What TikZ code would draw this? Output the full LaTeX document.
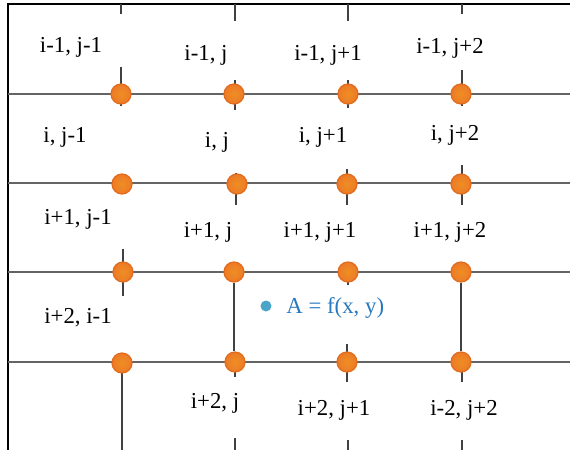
\documentclass[tikz,border=0pt]{standalone}
\usepackage{fontspec}
\setmainfont{Liberation Serif}
\definecolor{dotor}{RGB}{236,122,40}
\definecolor{dotedge}{RGB}{226,108,28}
\definecolor{hline}{RGB}{100,100,100}
\definecolor{vline}{RGB}{65,65,65}
\definecolor{ptblue}{RGB}{75,165,200}
\definecolor{txtblue}{RGB}{40,120,190}
\begin{document}
\begin{tikzpicture}[x=0.5pt,y=-0.5pt,
  gridh/.style={draw=hline,line width=1pt},
  gridv/.style={draw=vline,line width=0.8pt},
  knot/.style={circle,inner color=dotor!85!yellow,outer color=dotor,draw=dotedge,line width=0.6pt,minimum size=10pt,inner sep=0pt},
  lbl/.style={font=\fontsize{11.4}{13}\selectfont,inner sep=0pt},
  border/.style={draw=black,line width=0.8pt}]
\useasboundingbox (0,0) rectangle (570,450);
% frame
\draw[border] (8,450) -- (8,4) -- (570,4);
% horizontal lines
\foreach \y in {94,183,272,362} \draw[gridh] (8,\y) -- (570,\y);
% top ticks
\draw[gridv] (121,4) -- (121,14);
\draw[gridv] (235,4) -- (235,21);
\draw[gridv] (348,4) -- (348,21);
\draw[gridv] (462,4) -- (462,14);
% row ticks
\draw[gridv] (121,67) -- (121,106);
\draw[gridv] (235,80) -- (235,110);
\draw[gridv] (348,80) -- (348,108);
\draw[gridv] (462,70) -- (462,106);
\draw[gridv] (122,174) -- (122,184);
\draw[gridv] (236,173) -- (236,205);
\draw[gridv] (347,169) -- (347,205);
\draw[gridv] (462,165) -- (462,205);
\draw[gridv] (123,249) -- (123,296);
\draw[gridv] (348,272) -- (348,285);
\draw[gridv] (347,344) -- (347,382);
\draw[gridv] (235,362) -- (235,377);
\draw[gridv] (462,362) -- (462,382);
% bottom ticks
\draw[gridv] (122,363) -- (122,450);
\draw[gridv] (235,438) -- (235,450);
\draw[gridv] (348,440) -- (348,450);
\draw[gridv] (462,440) -- (462,450);
% knots
\node[knot] (a11) at (121,94) {};
\node[knot] (a12) at (234,94) {};
\node[knot] (a13) at (348,94) {};
\node[knot] (a14) at (461,94) {};
\node[knot] (a21) at (122,184) {};
\node[knot] (a22) at (237,184) {};
\node[knot] (a23) at (347,184) {};
\node[knot] (a24) at (461,184) {};
\node[knot] (a31) at (123,272) {};
\node[knot] (a32) at (234,272) {};
\node[knot] (a33) at (348,272) {};
\node[knot] (a34) at (461,272) {};
\node[knot] (a41) at (122,363) {};
\node[knot] (a42) at (235,362) {};
\node[knot] (a43) at (347,362) {};
\node[knot] (a44) at (461,362) {};
\begin{scope}[on background layer/.style={}]
\end{scope}
\draw[gridv] (a32.south) -- (a32.south |- a42.north);
\draw[gridv] (a34) -- (a44);
% labels
\node[lbl] (l11) at (71,47) {i-1, j-1};
\node[lbl] (l12) at (206,55) {i-1, j};
\node[lbl] (l13) at (328,55) {i-1, j+1};
\node[lbl] (l14) at (450,48) {i-1, j+2};
\node[lbl] (l21) at (65,137) {i, j-1};
\node[lbl] (l22) at (217,142) {i, j};
\node[lbl] (l23) at (323,137) {i, j+1};
\node[lbl] (l24) at (455,135) {i, j+2};
\node[lbl] (l31) at (78,219) {i+1, j-1};
\node[lbl] (l32) at (208,232) {i+1, j};
\node[lbl] (l33) at (320,232) {i+1, j+1};
\node[lbl] (l34) at (450,232) {i+1, j+2};
\node[lbl] (l41) at (78,318) {i+2, i-1};
\node[lbl] (l42) at (215,403) {i+2, j};
\node[lbl] (l43) at (334,410) {i+2, j+1};
\node[lbl] (l44) at (464,410) {i-2, j+2};
% point A
\node[circle,fill=ptblue,minimum size=5.5pt,inner sep=0pt] (pa) at (266,306) {};
\node[lbl,text=txtblue,anchor=west] (la) at (286,308) {A = f(x, y)};
\end{tikzpicture}
\end{document}
